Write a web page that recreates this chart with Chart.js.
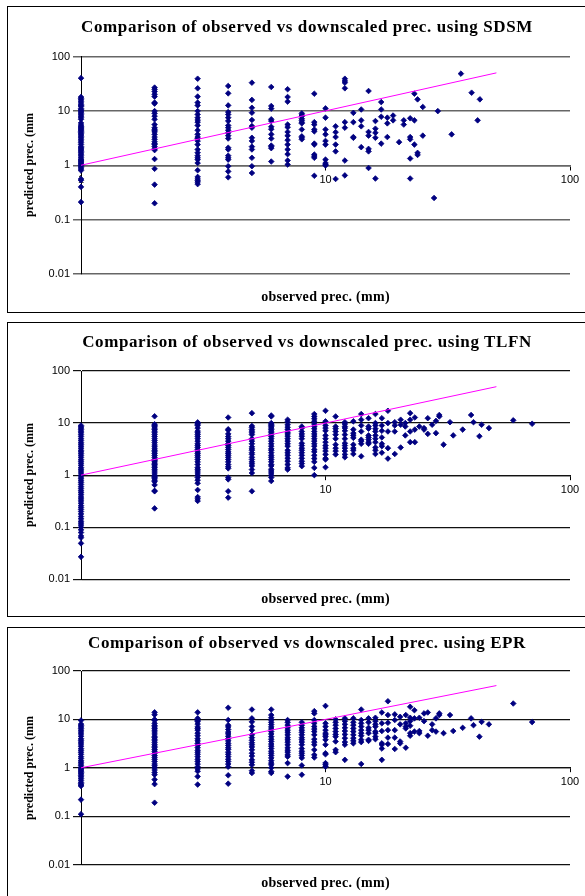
<!DOCTYPE html>
<html>
<head>
<meta charset="utf-8">
<script src="https://cdn.jsdelivr.net/npm/chart.js@4.4.0/dist/chart.umd.min.js"></script>
<style>
    html, body { margin: 0; padding: 0; background: #fff; }
    body { width: 585px; height: 896px; position: relative; overflow: hidden; }
    .panel { position: absolute; left: 0; width: 585px; }
    .panel canvas { position: absolute; left: 0; top: 0; }
    .frame { position: absolute; left: 7px; width: 600px; border: 1px solid #000; box-sizing: border-box; }
    .title { position: absolute; left: 7px; width: 600px; text-align: center; line-height: 20px; letter-spacing: 0.6px;
             font: bold 17px 'Liberation Serif', 'Times New Roman', serif; color: #000; white-space: nowrap; }
    .xtitle { position: absolute; left: 81px; width: 489px; text-align: center; line-height: 16px; letter-spacing: 0.3px;
              font: bold 14px 'Liberation Serif', 'Times New Roman', serif; color: #000; white-space: nowrap; }
    .ytitle { position: absolute; width: 200px; height: 16px; text-align: center; line-height: 16px;
              font: bold 12px 'Liberation Serif', 'Times New Roman', serif; color: #000; white-space: nowrap;
              transform: rotate(-90deg); }
</style>
</head>
<body>
<script>
// axis ticks (log-log)
const Y_TICKS = [0.01, 0.1, 1, 10, 100];
const X_TICKS = [1, 10, 100];
// 1:1 reference line
const LINE_ENDS = [1, 50];

// SDSM: observed values and the predicted values at each of them
const SDSM_OBS = [1, 2, 3, 4, 5, 6, 7, 8, 9, 10, 11, 12, 13, 14, 15, 16, 16.9, 17.9, 18.9, 20, 20.9,
    22.2, 23.1, 23.8, 25, 27.8, 28.8, 32.8, 35.8, 39.6, 41.9, 42.8];
const SDSM_PRED = [
    [40, 18, 17, 16, 15, 14, 13, 12.5, 12, 11, 10.5, 10, 9.5, 9, 8.5, 8, 7.5, 7, 6, 5.5, 5.2, 5, 4.8, 4.6, 4.4,
     4.2, 4, 3.8, 3.6, 3.4, 3.2, 3, 2.8, 2.6, 2.4, 2.2, 2.1, 2, 1.9, 1.8, 1.7, 1.6, 1.5, 1.4, 1.3, 1.25, 1.2,
     1.15, 1.1, 1.05, 1, 0.95, 0.9, 0.85, 0.8, 0.56, 0.53, 0.4, 0.21],
    [26.8, 24.9, 22.6, 20.2, 18.3, 14.2, 13.6, 9.9, 9, 8, 7, 5.6, 4.9, 4.6, 4.3, 4.1, 3.7, 3.3, 3, 2.7, 2.5,
     2.4, 2.2, 2, 1.9, 1.3, 0.86, 0.44, 0.2],
    [39, 26, 18.3, 14.2, 12.6, 9.9, 8.6, 7.5, 6.8, 6.2, 5.4, 4.4, 3.7, 3.3, 3.1, 2.8, 2.4, 1.95, 1.7, 1.5,
     1.37, 1.27, 1.1, 0.81, 0.61, 0.56, 0.52, 0.49, 0.45],
    [28.7, 21, 12.6, 9.5, 8.6, 7.5, 6.5, 5.4, 4.9, 4.4, 3.95, 3.5, 3.1, 2.1, 1.95, 1.5, 1.37, 1.27, 0.96, 0.77, 0.6],
    [33, 15.9, 11.4, 9.25, 6.8, 5.25, 4.9, 3.2, 2.8, 2.2, 1.95, 1.37, 0.96, 0.72],
    [27.5, 12.3, 11, 7, 6.5, 5.1, 4.6, 3.7, 3.1, 2.3, 2.2, 2.06, 1.17],
    [25, 18, 14.8, 5.6, 5, 4.1, 3.5, 2.9, 2.4, 1.95, 1.6, 1.22, 1.03],
    [9, 8.4, 8, 7.2, 6.7, 6.2, 5.9, 4.55, 3.4, 3.2, 3.0],
    [20.7, 6.2, 5.6, 4.55, 4.2, 2.5, 2.4, 1.57, 1.47, 1.37, 0.64],
    [11.1, 7.5, 4.55, 3.7, 2.8, 2.4, 1.27, 1.1, 1.03, 0.99],
    [5.2, 4.06, 3.3, 2.4, 1.8, 0.56],
    [39, 35.5, 33, 26, 6.2, 4.9, 1.22, 0.65],
    [9.2, 6.2, 3.3, 3.2],
    [10.6, 6.7, 5.2, 2.15],
    [23.2, 4.1, 3.5, 2.0, 1.8, 0.89],
    [6.5, 4.7, 3.95, 3.2, 0.57],
    [14.5, 10.6, 7.8, 2.5],
    [7.5, 5.9, 3.3],
    [8.2, 6.7],
    [2.66],
    [6.7, 5.6],
    [7.3, 3.3, 3.0, 1.33, 0.57],
    [20.7, 6.7, 2.4],
    [16.3, 1.69, 1.55],
    [11.8, 3.5],
    [0.25],
    [9.9],
    [3.7],
    [48.4],
    [21.6],
    [6.7],
    [16.3]
];

// TLFN
const TLFN_OBS = [1, 2, 3, 4, 5, 6, 7, 8, 9, 10, 11, 12, 13, 14, 15, 16, 17, 18, 19.2, 20.3, 21.2, 22.2,
    23.2, 24.2, 25.3, 26.2, 27.3, 28.3, 29.2, 30.4, 32.3, 33.3, 36.4, 39.4, 40.3, 42.6, 43.5, 46.6, 58.6, 70];
const TLFN_PRED = [
    [9, 8.5, 8, 7.5, 7, 6.5, 6, 5.5, 5, 4.6, 4.2, 3.9, 3.6, 3.3, 3, 2.8, 2.6, 2.4, 2.2, 2, 1.85, 1.7, 1.55,
     1.4, 1.3, 1.2, 1.1, 1, 0.92, 0.85, 0.78, 0.72, 0.66, 0.6, 0.55, 0.5, 0.46, 0.42, 0.38, 0.35, 0.32, 0.29,
     0.26, 0.24, 0.22, 0.2, 0.18, 0.16, 0.145, 0.13, 0.12, 0.11, 0.1, 0.089, 0.079, 0.068, 0.063, 0.049, 0.027],
    [13.5, 9.5, 9, 8.5, 8, 7.5, 7, 6.5, 6, 5.5, 5, 4.6, 4.2, 3.8, 3.5, 3.2, 3, 2.8, 2.6, 2.4, 2.2, 2, 1.9,
     1.8, 1.7, 1.6, 1.5, 1.4, 1.3, 1.2, 1.1, 1.0, 0.95, 0.9, 0.85, 0.8, 0.75, 0.65, 0.5, 0.49, 0.23],
    [10.3, 10, 9.5, 9, 8, 7, 6.5, 6, 5.5, 5, 4.5, 4, 3.7, 3.4, 3.1, 2.8, 2.6, 2.4, 2.2, 2, 1.8, 1.6, 1.4,
     1.3, 1.2, 1.1, 1.0, 0.9, 0.8, 0.7, 0.52, 0.38, 0.35, 0.32],
    [12.8, 7.6, 7.3, 6.2, 5.5, 5, 4.5, 4, 3.7, 3.4, 3.1, 2.8, 2.6, 2.4, 2.2, 2, 1.8, 1.6, 1.45, 1.35, 0.9,
     0.83, 0.49, 0.37],
    [15.5, 8.8, 8.2, 7.5, 7, 6.5, 6, 5, 4.5, 4, 3.5, 3.2, 3, 2.7, 2.5, 2.2, 2, 1.8, 1.65, 1.5, 1.28, 1.1, 0.49],
    [14, 13.4, 10, 9.5, 9, 8.5, 8, 7.5, 7, 6.5, 6, 5.5, 5, 4.5, 4, 3.6, 3.2, 3, 2.7, 2.4, 2.2, 2, 1.8, 1.6,
     1.5, 1.3, 1.2, 1.1, 1.0, 0.9, 0.77],
    [11.6, 10.5, 9.3, 8.3, 7.5, 6.7, 6.2, 5.6, 5.0, 4.5, 4.0, 3.6, 3.0, 2.7, 2.4, 2.1, 1.85, 1.6, 1.38, 1.28],
    [8.6, 8.0, 6.9, 6.2, 5.6, 5.0, 4.1, 3.7, 3.3, 3.0, 2.7, 2.4, 2.1, 1.85, 1.67, 1.49],
    [14.9, 13.4, 12.1, 10.8, 9.6, 8.6, 7.8, 6.9, 6.2, 5.6, 5.0, 4.5, 4.0, 3.6, 3.1, 2.8, 2.4, 2.08, 1.8, 1.38, 1.0],
    [17.2, 10.8, 9.0, 8.0, 7.1, 5.8, 5.0, 4.3, 3.7, 3.3, 2.9, 2.5, 2.1, 2.0, 1.42],
    [13.4, 8.6, 7.8, 6.9, 6.0, 5.0, 3.85, 3.3, 2.9, 2.5],
    [10.4, 9.6, 8.6, 8.0, 7.1, 6.0, 5.0, 4.1, 3.7, 3.3, 2.9, 2.5, 2.2],
    [10.8, 7.5, 6.4, 5.8, 5.2, 3.85, 3.3, 3.0, 2.55],
    [14.9, 11.6, 9.0, 6.9, 4.8, 4.5, 4.0, 2.3],
    [12.4, 8.6, 7.8, 5.8, 5.3, 4.8, 4.3, 4.0],
    [14.9, 10, 9, 7.8, 6.9, 5.8, 5.0, 4.3, 3.4, 3.0, 2.55],
    [12.4, 9.0, 7.1, 5.3, 4.0, 3.6, 2.7],
    [17.2, 10, 6.9, 3.3, 2.08],
    [10.4, 9.0, 6.9, 2.55],
    [11.6, 9.3, 3.4],
    [10, 8.6, 5.8],
    [15.5, 11.6, 6.9, 4.3],
    [12.8, 7.5, 4.3],
    [8.6],
    [8.0, 7.5],
    [12.4, 6.2],
    [9.3],
    [11.0, 6.4],
    [14.3, 13.4],
    [3.85],
    [10.4],
    [5.8],
    [7.5],
    [14.3],
    [10.4],
    [5.6],
    [9.3],
    [8.0],
    [11.3],
    [9.7]
];

// EPR
const EPR_OBS = [1, 2, 3, 4, 5, 6, 7, 8, 9, 10, 11, 12, 13, 14, 15, 16, 17, 18, 19.2, 20.2, 21.3, 22.2,
    23.1, 24.2, 25.3, 26.2, 27.3, 28.3, 29.2, 30.4, 32.3, 33.3, 36.4, 39.4, 40.3, 42.6, 43.5, 46.6, 58.6, 70];
const EPR_PRED = [
    [9.5, 8, 7.5, 7, 6.5, 6, 5.5, 5, 4.5, 4, 3.7, 3.4, 3.1, 2.8, 2.5, 2.3, 2.1, 1.9, 1.7, 1.55, 1.4, 1.3,
     1.2, 1.1, 1.0, 0.95, 0.9, 0.85, 0.8, 0.75, 0.7, 0.65, 0.6, 0.55, 0.5, 0.47, 0.44, 0.42, 0.22, 0.11],
    [14, 12.5, 10, 9.5, 8.3, 7.5, 7, 6.5, 6, 5.5, 5, 4.5, 4.2, 3.9, 3.6, 3.3, 3, 2.8, 2.6, 2.4, 2.2, 2, 1.8,
     1.65, 1.5, 1.35, 1.2, 1.1, 1.0, 0.9, 0.8, 0.72, 0.57, 0.46, 0.19],
    [14, 10.5, 9.5, 9, 8, 7, 6.5, 6, 5.2, 4.6, 4, 3.6, 3.2, 2.9, 2.6, 2.3, 2.1, 1.9, 1.7, 1.5, 1.35, 1.2,
     1.05, 0.95, 0.85, 0.66, 0.45],
    [17.4, 9.7, 7.6, 7, 6.2, 5.5, 5, 4.5, 4, 3.6, 3.2, 2.9, 2.6, 2.4, 2.1, 1.9, 1.7, 1.5, 1.35, 1.2, 1.05, 0.7, 0.47],
    [16, 10.5, 8.9, 7.1, 6, 4.8, 4.2, 3.7, 3.3, 3, 2.7, 2.35, 2.0, 1.75, 1.46, 1.3, 1.15, 0.87, 0.78],
    [16, 12.3, 10.8, 9.7, 8.7, 7.8, 7, 6.3, 5.6, 5, 4.4, 3.9, 3.5, 3.1, 2.8, 2.5, 2.2, 2.0, 1.8, 1.6, 1.4,
     1.25, 1.15, 1.0, 0.84, 0.78],
    [9.7, 8.7, 7.6, 6.7, 6.0, 5.4, 4.8, 4.2, 3.8, 3.4, 3.0, 2.6, 2.3, 2.1, 1.85, 1.7, 1.25, 0.66],
    [8.7, 7.6, 6.7, 6.0, 5.4, 4.8, 4.2, 3.8, 3.4, 3.0, 2.5, 2.2, 2.0, 1.8, 1.6, 1.12, 0.72],
    [14.8, 13.3, 9.7, 8.3, 7.1, 6.3, 5.6, 4.8, 3.9, 3.4, 3.0, 2.35, 1.85, 1.63],
    [19, 8.3, 7.1, 6.0, 5.2, 4.8, 4.4, 3.8, 3.0, 2.0, 1.9, 1.25, 1.15, 1.06],
    [10, 8.7, 7.6, 6.5, 5.6, 4.9, 4.4, 3.5, 2.35, 2.1],
    [10.5, 9.2, 7.9, 6.7, 5.75, 4.9, 4.1, 3.4, 3.0, 1.46],
    [10.5, 8.7, 7.6, 6.5, 5.6, 4.8, 4.1, 3.6, 3.2],
    [16, 9.7, 8.3, 7.1, 6.0, 5.2, 4.6, 3.8, 3.4, 1.2],
    [10.5, 8.7, 6.7, 6.0, 5.2, 3.8, 3.6],
    [10.8, 9.2, 7.9, 7.1, 5.6, 5.2, 4.4, 3.9],
    [13.9, 8.3, 5.75, 3.2, 3.0, 2.5, 1.46],
    [23.7, 12.3, 8.5, 6.0, 4.2, 3.1],
    [12.7, 9.7, 6.0, 4.2, 2.45],
    [11.3, 7.9, 3.5, 3.2],
    [12.3, 8.3, 7.1, 6.5, 2.6],
    [18.2, 10.8, 9.2, 7.4, 5.2, 4.6],
    [15.5, 10.5, 5.6],
    [10.8, 5.75, 5.2],
    [13.3, 9.2],
    [13.9, 4.6],
    [7.9, 6.0],
    [10.5, 5.6],
    [13.3, 12.3],
    [5.2],
    [12.3],
    [5.75],
    [6.7],
    [10.5],
    [7.6],
    [4.4],
    [8.9],
    [7.9],
    [21.3],
    [8.8]
];

const PANELS = [
    { title: 'Comparison of observed vs downscaled prec. using SDSM', obs: SDSM_OBS, pred: SDSM_PRED,
      top: 0, height: 313, frameTop: 6, frameHeight: 307, plotTop: 56.5, plotBottom: 274,
      titleY: 27, xTitleY: 296.5, grid: '#666', gridWidth: 1.5 },
    { title: 'Comparison of observed vs downscaled prec. using TLFN', obs: TLFN_OBS, pred: TLFN_PRED,
      top: 316, height: 302, frameTop: 6, frameHeight: 295, plotTop: 55, plotBottom: 263.3,
      titleY: 25.7, xTitleY: 283.3, grid: '#111', gridWidth: 1.2 },
    { title: 'Comparison of observed vs downscaled prec. using EPR', obs: EPR_OBS, pred: EPR_PRED,
      top: 621, height: 275, frameTop: 6, frameHeight: 290, plotTop: 50, plotBottom: 243.6,
      titleY: 22.3, xTitleY: 262.3, grid: '#111', gridWidth: 1.2 }
];

const PLOT_LEFT = 81;
const PLOT_RIGHT = 570;
const MARKER = '#000080';

function toPoints(obs, pred) {
    const pts = [];
    obs.forEach((x, i) => pred[i].forEach(y => pts.push({ x: x, y: y })));
    return pts;
}

function addText(parent, cls, text, css) {
    const el = document.createElement('div');
    el.className = cls;
    el.textContent = text;
    Object.assign(el.style, css);
    parent.appendChild(el);
    return el;
}

Chart.defaults.font.family = "'Liberation Sans', Arial, sans-serif";
Chart.defaults.color = '#000';

PANELS.forEach(p => {
    const wrap = document.createElement('div');
    wrap.className = 'panel';
    wrap.style.top = p.top + 'px';
    wrap.style.height = p.height + 'px';
    document.body.appendChild(wrap);

    const frame = document.createElement('div');
    frame.className = 'frame';
    frame.style.top = p.frameTop + 'px';
    frame.style.height = p.frameHeight + 'px';
    wrap.appendChild(frame);

    const canvas = document.createElement('canvas');
    canvas.width = 585;
    canvas.height = p.height;
    canvas.style.width = '585px';
    canvas.style.height = p.height + 'px';
    wrap.appendChild(canvas);

    addText(wrap, 'title', p.title, { top: (p.titleY - 10) + 'px' });
    addText(wrap, 'xtitle', 'observed prec. (mm)', { top: (p.xTitleY - 8) + 'px' });
    addText(wrap, 'ytitle', 'predicted prec. (mm', {
        left: (30 - 100) + 'px',
        top: ((p.plotTop + p.plotBottom) / 2 - 8) + 'px'
    });

    new Chart(canvas, {
        type: 'scatter',
        data: {
            datasets: [
                {
                    // 1:1 line, drawn above the points
                    data: LINE_ENDS.map(v => ({ x: v, y: v })),
                    showLine: true,
                    borderColor: '#ff00ff',
                    borderWidth: 1,
                    pointRadius: 0,
                    clip: false
                },
                {
                    data: toPoints(p.obs, p.pred),
                    pointStyle: 'rectRot',
                    pointRadius: 2.8,
                    pointBackgroundColor: MARKER,
                    pointBorderColor: MARKER,
                    pointBorderWidth: 0.8,
                    clip: false
                }
            ]
        },
        options: {
            responsive: false,
            animation: false,
            devicePixelRatio: 1,
            layout: { padding: { left: 0, right: 585 - PLOT_RIGHT, top: p.plotTop, bottom: p.height - p.plotBottom } },
            plugins: { legend: { display: false }, tooltip: { enabled: false } },
            scales: {
                x: {
                    type: 'logarithmic',
                    min: 1,
                    max: 100,
                    position: { y: 1 },
                    afterBuildTicks: s => { s.ticks = X_TICKS.map(v => ({ value: v })); },
                    ticks: { font: { size: 11 }, color: '#000', padding: 4, maxRotation: 0, autoSkip: false,
                             callback: v => String(v) },
                    grid: { display: true, drawOnChartArea: false, drawTicks: true, tickLength: 4, color: '#000' },
                    border: { display: true, color: p.grid, width: p.gridWidth }
                },
                y: {
                    type: 'logarithmic',
                    min: 0.01,
                    max: 100,
                    afterBuildTicks: s => { s.ticks = Y_TICKS.map(v => ({ value: v })); },
                    afterFit: s => { s.width = PLOT_LEFT; },
                    ticks: { font: { size: 11 }, color: '#000', padding: 3, autoSkip: false,
                             callback: v => String(v) },
                    grid: { color: p.grid, lineWidth: p.gridWidth, tickLength: 8 },
                    border: { display: true, color: '#000', width: 1 }
                }
            }
        }
    });
});
</script>
</body>
</html>
